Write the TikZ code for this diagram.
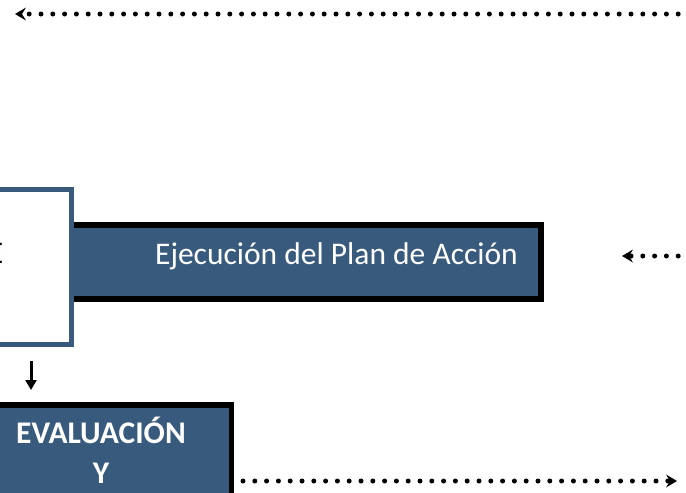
\documentclass[tikz,border=0pt]{standalone}
\usepackage{fontspec}
\setmainfont{Carlito}
\usetikzlibrary{arrows.meta}
\definecolor{bblue}{RGB}{56,90,125}
\tikzset{
  dotline/.style={line width=5pt, line cap=round, dash pattern=on 0pt off 11.8pt,
    -{Stealth[length=11pt,width=13pt,inset=4pt,line width=0pt]}},
  barbox/.style={draw=black, line width=5.5pt, fill=bblue},
  bigfont/.style={font=\fontsize{31.5}{36}\selectfont},
  boldfont/.style={font=\bfseries\fontsize{31.5}{36}\selectfont},
}
\begin{document}
\begin{tikzpicture}[x=1pt,y=1pt]
\useasboundingbox (0,0) rectangle (686,-493);
\clip (0,0) rectangle (686,-493);
% coordinates
\coordinate (t1) at (690,-14);
\coordinate (t2) at (15,-14);
\coordinate (m1) at (690,-256);
\coordinate (m2) at (622,-256);
\coordinate (b1) at (243,-481);
\coordinate (b2) at (677,-481);
\coordinate (d1) at (31,-361);
\coordinate (d2) at (31,-390);
% bar
\path[barbox] (40,-225) rectangle (541,-299);
\node[text=white, bigfont, anchor=base] (bartext) at (336.5,-264) {Ejecución del Plan de Acción};
% white box
\path[draw=bblue, line width=5pt, fill=white] (-40,-189.5) rectangle (71.5,-344.5);
\node[bigfont, anchor=base east, inner sep=0pt] (etext) at (3.5,-263) {E};
% evaluacion box
\path[barbox] (-40,-405) rectangle (231.5,-520);
\node[text=white, boldfont, anchor=base] (ev1) at (101,-443) {EVALUACIÓN};
\node[text=white, boldfont, anchor=base] (ev2) at (101,-483) {Y};
% arrows
\draw[line width=3pt, -{Triangle[length=10pt,width=11pt]}] (d1) -- (d2);
\draw[dotline] (t1) -- (t2);
\draw[dotline] (m1) -- (m2);
\draw[dotline] (b1) -- (b2);
\end{tikzpicture}
\end{document}
